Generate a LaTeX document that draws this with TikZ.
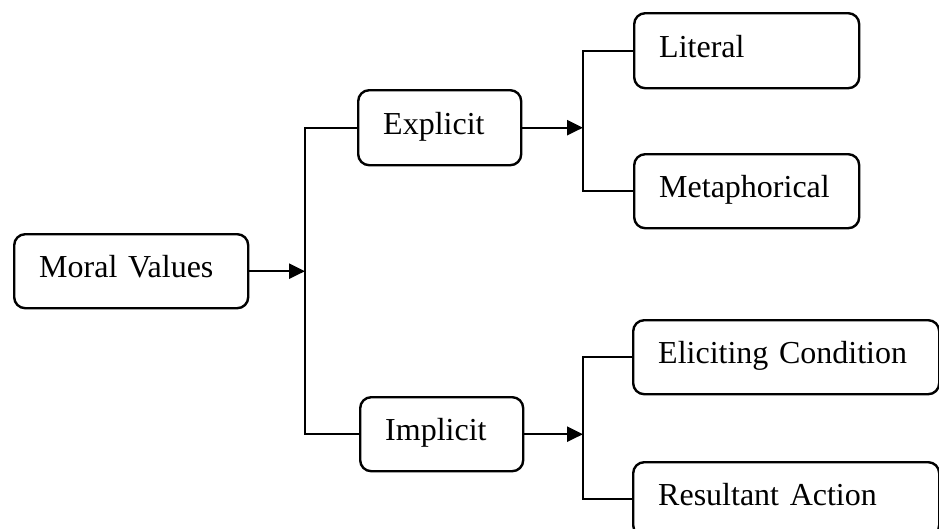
\documentclass[tikz,border=0pt]{standalone}
\usepackage{fontspec}
\setmainfont{Liberation Serif}
\usetikzlibrary{arrows.meta}
\begin{document}
\begin{tikzpicture}[x=1pt,y=-1pt,
  box/.style={draw, line width=2.4pt, rounded corners=11pt, anchor=north west,
    inner xsep=25pt, inner ysep=0pt, align=left,
    font=\fontsize{32}{36}\selectfont, text height=22pt, text depth=9pt},
  conn/.style={line width=2.4pt},
  arr/.style={line width=2.4pt, -{Triangle[length=16pt,width=15pt]}}]
\useasboundingbox (0,0) rectangle (939,528);
\clip (0,0) rectangle (939,528);
\node[box, minimum width=234pt, minimum height=74pt, text width=184pt] (moral) at (13,233) {Moral Values};
\node[box, minimum width=163pt, minimum height=75pt, text width=113pt] (explicit) at (357,89) {Explicit};
\node[box, minimum width=163pt, minimum height=74pt, text width=113pt] (implicit) at (359,396) {Implicit};
\node[box, minimum width=225pt, minimum height=75pt, text width=175pt] (literal) at (633,12) {Literal};
\node[box, minimum width=225pt, minimum height=74pt, text width=175pt] (metaph) at (633,153) {Metaphorical};
\node[box, minimum width=306pt, minimum height=74pt, text width=256pt] (elicit) at (632,319) {Eliciting Condition};
\node[box, minimum width=306pt, minimum height=74pt, text width=256pt] (result) at (632,461) {Resultant Action};
\coordinate (j1) at (305,0);
\coordinate (j2) at (583,0);
% first fork
\draw[arr] (moral.east) -- (moral.east -| j1);
\draw[conn] (explicit.west) -- (explicit.west -| j1) -- (implicit.west -| j1) -- (implicit.west);
% explicit fork
\draw[arr] (explicit.east) -- (explicit.east -| j2);
\draw[conn] (literal.west) -- (literal.west -| j2) -- (metaph.west -| j2) -- (metaph.west);
% implicit fork
\draw[arr] (implicit.east) -- (implicit.east -| j2);
\draw[conn] (elicit.west) -- (elicit.west -| j2) -- (result.west -| j2) -- (result.west);
\end{tikzpicture}
\end{document}
